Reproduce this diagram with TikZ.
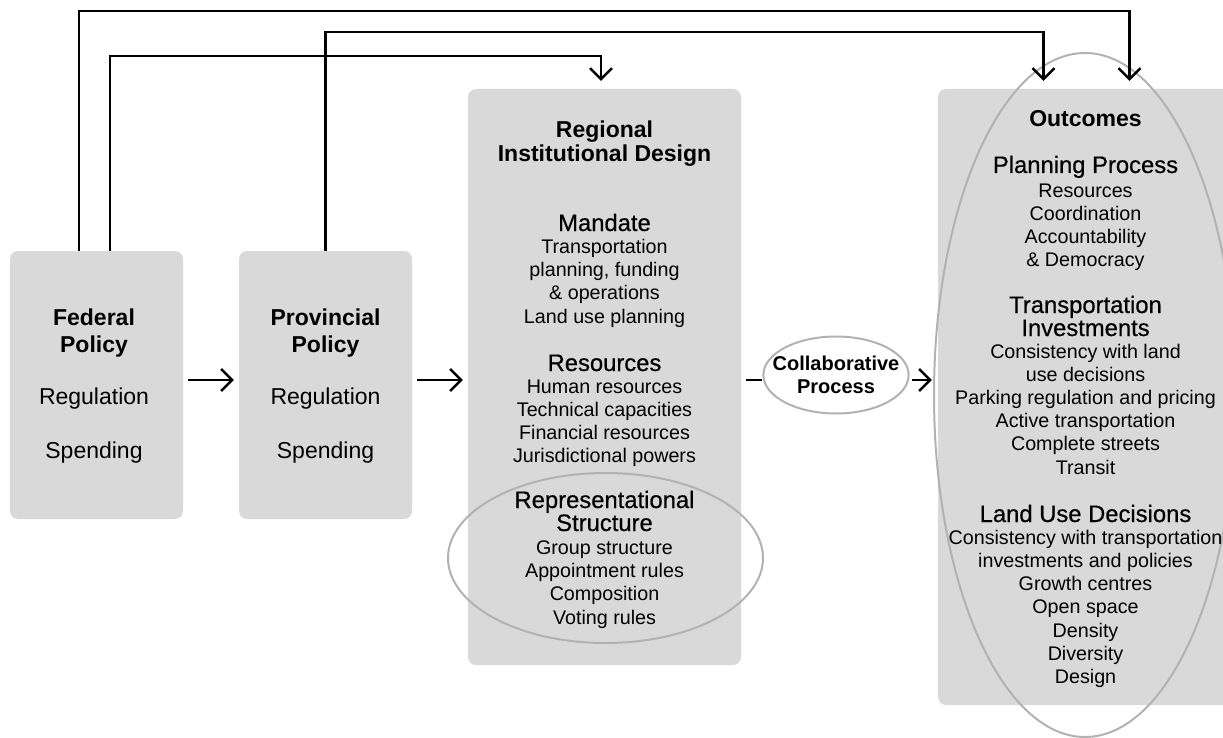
\documentclass[tikz,border=0pt]{standalone}
\usepackage{fontspec}
\setmainfont{Liberation Sans}
\newfontfamily\headfont{Liberation Sans}[FakeBold=0.5]
\usetikzlibrary{arrows.meta,shapes.geometric}
\definecolor{boxfill}{gray}{0.85}
\definecolor{ringline}{gray}{0.70}
\begin{document}
\begin{tikzpicture}[
  x=1pt, y=-1pt,
  box/.style={rectangle, rounded corners=8pt, fill=boxfill, inner sep=0pt},
  ring/.style={ellipse, draw=ringline, line width=2pt, inner sep=0pt},
  title/.style={font=\bfseries\fontsize{23}{24}\selectfont, align=center, anchor=base},
  head/.style={font=\headfont\fontsize{23.8}{23}\selectfont, align=center, anchor=base},
  items/.style={font=\fontsize{19.7}{23.1}\selectfont, align=center, anchor=base},
  link/.style={line width=2.4pt, -{Straight Barb[length=11pt,width=22pt]}, shorten <=4.5pt, shorten >=5pt},
  plain/.style={line width=2.4pt, shorten <=5pt}
]
  \useasboundingbox (0,0) rectangle (1223,738);

  % grey panels
  \node[box, minimum width=173pt, minimum height=268pt] (fed) at (96.5,385) {};
  \node[box, minimum width=173pt, minimum height=268pt] (prov) at (325.5,385) {};
  \node[box, minimum width=273pt, minimum height=576pt] (reg) at (604.5,377) {};
  \node[box, minimum width=297pt, minimum height=616pt] (out) at (1086.5,397) {};

  % rings around the highlighted parts
  \node[ring, minimum width=315pt, minimum height=170pt] (repring) at (605.5,558) {};
  \node[ring, minimum width=302pt, minimum height=684pt] (outring) at (1085,395) {};

  % federal and provincial levels (anchored on the last line)
  \node[title, font=\bfseries\fontsize{23}{27}\selectfont] (fedT) at (94,352) {Federal\\Policy};
  \node[items, font=\fontsize{23}{54}\selectfont] (fedL) at (94,458) {Regulation\\Spending};
  \node[title, font=\bfseries\fontsize{23}{27}\selectfont] (provT) at (325.5,352) {Provincial\\Policy};
  \node[items, font=\fontsize{23}{54}\selectfont] (provL) at (325.5,458) {Regulation\\Spending};

  % regional institution
  \node[title] (regT) at (604.5,162) {Regional\\Institutional Design};
  \node[head] (mandH) at (604.5,231) {Mandate};
  \node[items] (mandL) at (604.5,323) {Transportation\\planning, funding\\\& operations\\Land use planning};
  \node[head] (resH) at (604.5,371) {Resources};
  \node[items] (resL) at (604.5,462.5) {Human resources\\Technical capacities\\Financial resources\\Jurisdictional powers};
  \node[head] (repH) at (604.5,531) {Representational\\Structure};
  \node[items] (repL) at (604.5,624) {Group structure\\Appointment rules\\Composition\\Voting rules};

  % outcomes
  \node[title] (outT) at (1085.5,127) {Outcomes};
  \node[head] (planH) at (1085.5,173) {Planning Process};
  \node[items] (planL) at (1085.5,266.5) {Resources\\Coordination\\Accountability\\\& Democracy};
  \node[head] (invH) at (1085.5,336) {Transportation\\Investments};
  \node[items] (invL) at (1085.5,474) {Consistency with land\\use decisions\\Parking regulation and pricing\\Active transportation\\Complete streets\\Transit};
  \node[head] (landH) at (1085.5,522) {Land Use Decisions};
  \node[items, font=\fontsize{19.7}{23.2}\selectfont] (landL) at (1085.5,683.5) {Consistency with transportation\\investments and policies\\Growth centres\\Open space\\Density\\Diversity\\Design};

  % process bubble
  \node[ring, fill=white, inner xsep=-12pt, minimum width=144pt, minimum height=77pt, align=center,
        font=\bfseries\fontsize{20}{23}\selectfont] (collab) at (836,375) {Collaborative\\Process};

  % main chain
  \coordinate (row) at (0,380);
  \draw[link] (fed.east |- row) -- (prov.west |- row);
  \draw[link] (prov.east |- row) -- (reg.west |- row);
  \draw[plain] (reg.east |- row) -- (collab.west |- row);
  \draw[link, shorten <=2pt, shorten >=6pt] (collab.east |- row) -- (out.west |- row);

  % direct links over the top
  \draw[link, shorten <=0pt, shorten >=8pt] ([xshift=-17.5]fed.north) -- ++(0,-240) -| ([xshift=43]out.north);
  \draw[link, shorten <=0pt, shorten >=8pt] (prov.north) -- ++(0,-219) -| ([xshift=-43]out.north);
  \draw[link, shorten <=0pt, shorten >=8pt] ([xshift=13.5]fed.north) -- ++(0,-195) -| ([xshift=-3.5]reg.north);
\end{tikzpicture}
\end{document}
